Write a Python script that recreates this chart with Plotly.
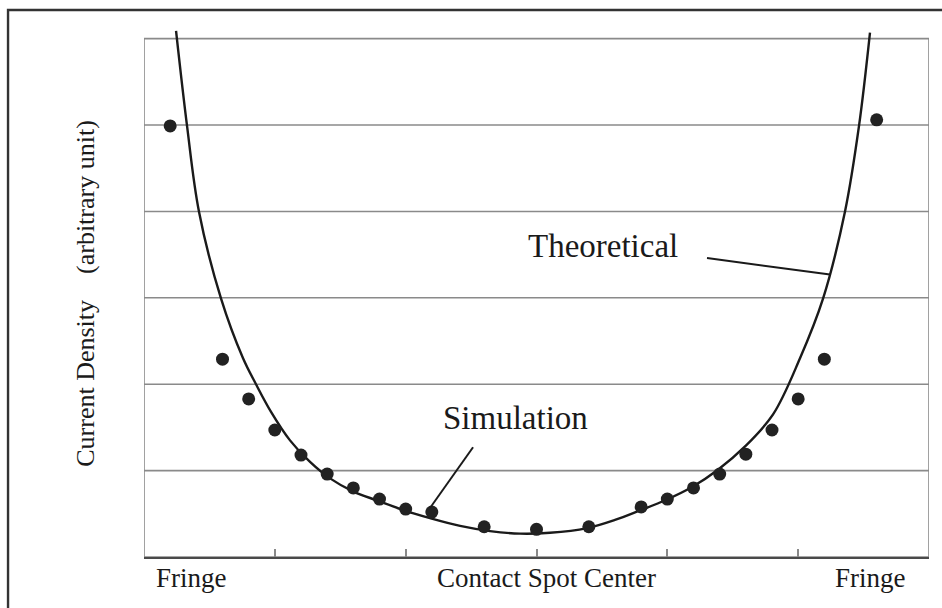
import plotly.graph_objects as go

# current density across a contact spot, fringe - centre - fringe

INK    = "#1a1a1a"
GRIDC  = "#8a8a8a"
AXISC  = "#4a4a4a"
SERIF  = "Liberation Serif, Times New Roman, serif"

# simulation points (x in spot-width units, 0..6; y in grid units, 0..6)
sim_x = [0.2, 0.6, 0.8, 1.0, 1.2, 1.4, 1.6, 1.8, 2.0, 2.2, 2.6,
         3.0, 3.4, 3.8, 4.0, 4.2, 4.4, 4.6, 4.8, 5.0, 5.2, 5.6]
sim_y = [4.99, 2.29, 1.83, 1.47, 1.18, 0.96, 0.80, 0.67, 0.555, 0.52, 0.35,
         0.32, 0.35, 0.58, 0.67, 0.80, 0.96, 1.19, 1.47, 1.83, 2.29, 5.06]

# theoretical curve
theo_x = [0.245, 0.329, 0.420, 0.589, 0.757, 0.856, 0.971, 1.116, 1.269, 1.422,
          1.597, 1.789, 1.987, 2.186, 2.416, 2.645, 2.874, 3.103, 3.386, 3.600,
          3.791, 3.989, 4.189, 4.387, 4.594, 4.808, 5.014, 5.190, 5.358,
          5.465, 5.549]
theo_y = [6.09, 4.99, 4.00, 2.99, 2.30, 2.00, 1.68, 1.35, 1.10, 0.91,
          0.76, 0.65, 0.54, 0.45, 0.36, 0.30, 0.27, 0.28, 0.335, 0.43,
          0.54, 0.66, 0.81, 1.01, 1.28, 1.65, 2.30, 2.99, 4.00,
          4.99, 6.07]

tick_pos   = [1, 2, 3, 4, 5]
label_pos  = [0.36, 3.08, 5.55]
label_text = ["Fringe", "Contact Spot Center", "Fringe"]
grid_lvls  = [1, 2, 3, 4, 5]

fig = go.Figure()

fig.add_trace(go.Scatter(x=theo_x, y=theo_y, mode="lines",
    line=dict(color=INK, width=2.4, shape="spline", smoothing=1.0),
    showlegend=False, hoverinfo="skip"))

fig.add_trace(go.Scatter(x=sim_x, y=sim_y, mode="markers",
    marker=dict(color="#222222", size=13),
    showlegend=False))

# box round the plot area and the horizontal rules
fig.add_shape(type="rect", x0=0, x1=6, y0=0, y1=6, xref="x", yref="y",
              line=dict(color=GRIDC, width=1.6), layer="below")
for g in grid_lvls:
    fig.add_shape(type="line", x0=0, x1=6, y0=g, y1=g, xref="x", yref="y",
                  line=dict(color=GRIDC, width=1.6), layer="below")

# leaders for the two call-outs
fig.add_shape(type="line", x0=4.303, y0=3.46, x1=5.243, y1=3.27,
              line=dict(color=INK, width=2))
fig.add_shape(type="line", x0=2.515, y0=1.27, x1=2.186, y1=0.567,
              line=dict(color=INK, width=2))

fig.add_annotation(x=3.51, y=3.595, text="Theoretical", showarrow=False,
                   font=dict(family=SERIF, size=33, color=INK))
fig.add_annotation(x=2.84, y=1.61, text="Simulation", showarrow=False,
                   font=dict(family=SERIF, size=33, color=INK))

# category labels under the axis
for xp, t in zip(label_pos, label_text):
    fig.add_annotation(x=xp, y=-0.04, text=t, showarrow=False,
                       xref="x", yref="paper", yanchor="middle",
                       font=dict(family=SERIF, size=27, color=INK))

# outer frame of the figure
fig.add_shape(type="rect", xref="paper", yref="paper",
              x0=-0.1732, x1=1.05, y0=-0.3, y1=1.038,
              line=dict(color="#333333", width=2.4))

fig.update_xaxes(range=[0, 6], showgrid=False, zeroline=False,
                 showline=True, linecolor=AXISC, linewidth=2,
                 ticks="inside", tickvals=tick_pos, ticklen=8,
                 tickcolor=GRIDC, tickwidth=1.5, showticklabels=False)
fig.update_yaxes(range=[0, 6.1], showgrid=False, zeroline=False,
                 showline=False, showticklabels=False,
                 title=dict(text="Current Density\u00a0\u00a0\u00a0\u00a0(arbitrary unit)",
                            font=dict(family=SERIF, size=26, color=INK),
                            standoff=40))

fig.update_layout(width=942, height=608,
                  margin=dict(l=144, r=13, t=30, b=51),
                  plot_bgcolor="white", paper_bgcolor="white",
                  font=dict(family=SERIF, color=INK))

fig.write_html("out.html", config={"displayModeBar": False},
               post_script="document.body.style.margin='0';")
